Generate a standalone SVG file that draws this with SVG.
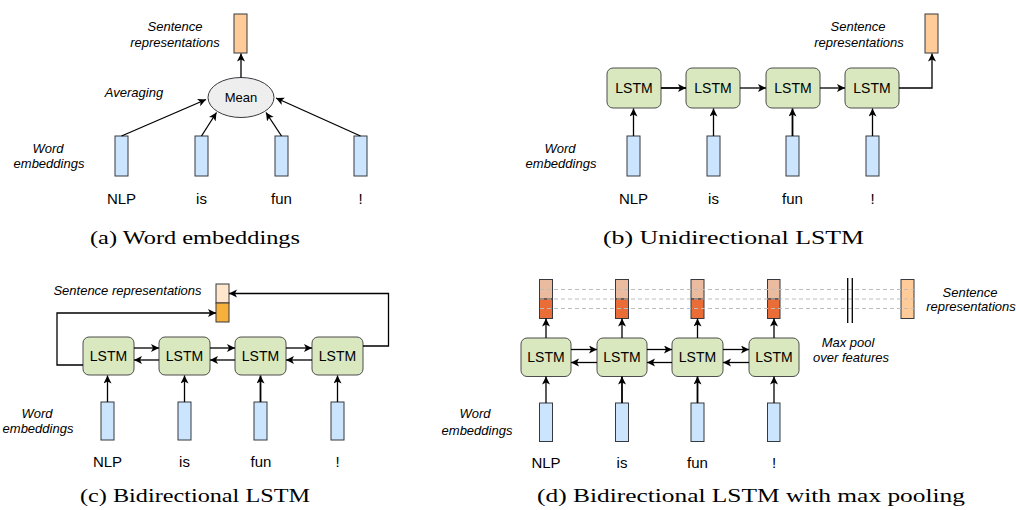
<svg xmlns="http://www.w3.org/2000/svg" width="1016" height="510" viewBox="0 0 1016 510">
<defs>
<marker id="ah" markerUnits="userSpaceOnUse" markerWidth="9" markerHeight="9" refX="8" refY="4" orient="auto">
<path d="M0,0 L8,4 L0,8 L2,4 z" fill="#000"/>
</marker>
<style>
.emb{fill:#cce5ff;stroke:#36393d;stroke-width:1}
.rep{fill:#ffcc99;stroke:#36393d;stroke-width:1}
.lstm{fill:#d9e8bf;stroke:#4d4d4d;stroke-width:1}
.lt{font-family:"Liberation Sans",Arial,sans-serif;font-size:14px;text-anchor:middle;fill:#000}
.w{font-family:"Liberation Sans",Arial,sans-serif;font-size:15px;text-anchor:middle;fill:#000}
.it{font-family:"Liberation Sans",Arial,sans-serif;font-size:13px;font-style:italic;text-anchor:middle;fill:#000}
.cap{font-family:"Liberation Serif","Times New Roman",serif;font-size:19px;fill:#000}
.c{fill:none;stroke:#000;stroke-width:1.3;marker-end:url(#ah)}
.dash{fill:none;stroke:#bdbdbd;stroke-width:1.2;stroke-dasharray:4,3}
</style>
</defs>
<rect width="1016" height="510" fill="#fff"/>

<!-- Panel (a) -->
<g id="a-rep"><rect class="rep" x="234" y="14" width="13" height="39"/></g>
<g id="a-rep-label"><text class="it" x="175" y="31">Sentence</text><text class="it" x="175" y="47">representations</text></g>
<g id="a-mean"><ellipse cx="241" cy="97.5" rx="33" ry="20" fill="#eeeeee" stroke="#36393d" stroke-width="1"/><text class="lt" x="241" y="102" style="font-size:13px">Mean</text></g>
<g id="a-avg"><text class="it" x="134" y="97">Averaging</text></g>
<g id="a-word"><text class="it" x="48" y="153">Word</text><text class="it" x="49" y="168">embeddings</text></g>
<g id="a-e1"><rect class="emb" x="115" y="136" width="13" height="40"/></g>
<g id="a-e2"><rect class="emb" x="195" y="136" width="13" height="40"/></g>
<g id="a-e3"><rect class="emb" x="275" y="136" width="13" height="40"/></g>
<g id="a-e4"><rect class="emb" x="354" y="136" width="13" height="40"/></g>
<g id="a-words"><text class="w" x="121.5" y="204">NLP</text><text class="w" x="201.5" y="204">is</text><text class="w" x="281.5" y="204">fun</text><text class="w" x="360.5" y="204">!</text></g>
<g id="a-cap"><text class="cap" x="90" y="244" textLength="210" lengthAdjust="spacingAndGlyphs">(a) Word embeddings</text></g>

<!-- Panel (b) -->
<g id="b-rep"><rect class="rep" x="925" y="14" width="13" height="39"/></g>
<g id="b-rep-label"><text class="it" x="858" y="31">Sentence</text><text class="it" x="859" y="47">representations</text></g>
<g id="b-word"><text class="it" x="560" y="153">Word</text><text class="it" x="561" y="168">embeddings</text></g>
<g id="b-l1"><rect class="lstm" x="607" y="68" width="54" height="40" rx="6"/><text class="lt" x="634" y="93">LSTM</text></g>
<g id="b-l2"><rect class="lstm" x="686" y="68" width="54" height="40" rx="6"/><text class="lt" x="713" y="93">LSTM</text></g>
<g id="b-l3"><rect class="lstm" x="766" y="68" width="54" height="40" rx="6"/><text class="lt" x="793" y="93">LSTM</text></g>
<g id="b-l4"><rect class="lstm" x="845" y="68" width="54" height="40" rx="6"/><text class="lt" x="872" y="93">LSTM</text></g>
<g id="b-e1"><rect class="emb" x="627" y="136" width="13" height="40"/></g>
<g id="b-e2"><rect class="emb" x="707" y="136" width="13" height="40"/></g>
<g id="b-e3"><rect class="emb" x="786" y="136" width="13" height="40"/></g>
<g id="b-e4"><rect class="emb" x="866" y="136" width="13" height="40"/></g>
<g id="b-words"><text class="w" x="633.5" y="204">NLP</text><text class="w" x="713.5" y="204">is</text><text class="w" x="792.5" y="204">fun</text><text class="w" x="872.5" y="204">!</text></g>
<g id="b-cap"><text class="cap" x="603" y="244" textLength="261" lengthAdjust="spacingAndGlyphs">(b) Unidirectional LSTM</text></g>

<!-- Panel (c) -->
<g id="c-rep"><rect x="216" y="284" width="13" height="19" fill="#ffe6cc" stroke="#36393d"/><rect x="216" y="303" width="13" height="19" fill="#f8b03c" stroke="#36393d"/></g>
<g id="c-rep-label"><text class="it" x="127.5" y="295">Sentence representations</text></g>
<g id="c-word"><text class="it" x="37" y="418">Word</text><text class="it" x="38" y="433">embeddings</text></g>
<g id="c-l1"><rect class="lstm" x="83" y="337" width="51" height="38" rx="6"/><text class="lt" x="108.5" y="361">LSTM</text></g>
<g id="c-l2"><rect class="lstm" x="159" y="337" width="51" height="38" rx="6"/><text class="lt" x="184.5" y="361">LSTM</text></g>
<g id="c-l3"><rect class="lstm" x="235" y="337" width="51" height="38" rx="6"/><text class="lt" x="260.5" y="361">LSTM</text></g>
<g id="c-l4"><rect class="lstm" x="312" y="337" width="51" height="38" rx="6"/><text class="lt" x="337.5" y="361">LSTM</text></g>
<g id="c-e1"><rect class="emb" x="101" y="402" width="13" height="38"/></g>
<g id="c-e2"><rect class="emb" x="178" y="402" width="13" height="38"/></g>
<g id="c-e3"><rect class="emb" x="254" y="402" width="13" height="38"/></g>
<g id="c-e4"><rect class="emb" x="331" y="402" width="13" height="38"/></g>
<g id="c-words"><text class="w" x="107.5" y="467">NLP</text><text class="w" x="184.5" y="467">is</text><text class="w" x="261" y="467">fun</text><text class="w" x="337.5" y="467">!</text></g>
<g id="c-cap"><text class="cap" x="80" y="502" textLength="230" lengthAdjust="spacingAndGlyphs">(c) Bidirectional LSTM</text></g>

<!-- Panel (d) -->
<g id="d-o1"><rect x="539.5" y="279.5" width="13" height="19.5" fill="#eabb9f" stroke="#36393d"/><rect x="539.5" y="299" width="13" height="19.5" fill="#ea6d37" stroke="#36393d"/></g>
<g id="d-o2"><rect x="615.5" y="279.5" width="13" height="19.5" fill="#eabb9f" stroke="#36393d"/><rect x="615.5" y="299" width="13" height="19.5" fill="#ea6d37" stroke="#36393d"/></g>
<g id="d-o3"><rect x="691" y="279.5" width="13" height="19.5" fill="#eabb9f" stroke="#36393d"/><rect x="691" y="299" width="13" height="19.5" fill="#ea6d37" stroke="#36393d"/></g>
<g id="d-o4"><rect x="767.5" y="279.5" width="12.5" height="19.5" fill="#eabb9f" stroke="#36393d"/><rect x="767.5" y="299" width="12.5" height="19.5" fill="#ea6d37" stroke="#36393d"/></g>
<g id="d-rep"><rect class="rep" x="901" y="279.5" width="13" height="39"/></g>
<g id="d-rep-label"><text class="it" x="970" y="297">Sentence</text><text class="it" x="971" y="311">representations</text></g>
<g id="d-maxpool"><text class="it" x="848" y="347">Max pool</text><text class="it" x="851" y="362">over features</text></g>
<g id="d-word"><text class="it" x="475" y="418">Word</text><text class="it" x="477" y="435">embeddings</text></g>
<g id="d-l1"><rect class="lstm" x="521" y="338" width="50" height="38.5" rx="6"/><text class="lt" x="546" y="362">LSTM</text></g>
<g id="d-l2"><rect class="lstm" x="597" y="338" width="50" height="38.5" rx="6"/><text class="lt" x="622" y="362">LSTM</text></g>
<g id="d-l3"><rect class="lstm" x="672" y="338" width="51" height="38.5" rx="6"/><text class="lt" x="697.5" y="362">LSTM</text></g>
<g id="d-l4"><rect class="lstm" x="749" y="338" width="50" height="38.5" rx="6"/><text class="lt" x="774" y="362">LSTM</text></g>
<g id="d-e1"><rect class="emb" x="539.5" y="403" width="13" height="38.5"/></g>
<g id="d-e2"><rect class="emb" x="615.5" y="403" width="13" height="38.5"/></g>
<g id="d-e3"><rect class="emb" x="691" y="403" width="13" height="38.5"/></g>
<g id="d-e4"><rect class="emb" x="767.5" y="403" width="12.5" height="38.5"/></g>
<g id="d-words"><text class="w" x="546" y="468">NLP</text><text class="w" x="622" y="468">is</text><text class="w" x="697.5" y="468">fun</text><text class="w" x="774" y="468">!</text></g>
<g id="d-cap"><text class="cap" x="537" y="502" textLength="428" lengthAdjust="spacingAndGlyphs">(d) Bidirectional LSTM with max pooling</text></g>

<g id="connectors">
<!-- a -->
<path class="c" d="M121.5,136 L206,99.5"/>
<path class="c" d="M201.5,136 L216.5,112.5"/>
<path class="c" d="M281.5,136 L266,112.5"/>
<path class="c" d="M360.5,136 L276,98"/>
<path class="c" d="M241,77.5 V53.5"/>
<!-- b -->
<path class="c" d="M661,88 H686" style="stroke-width:1.8"/>
<path class="c" d="M740,88 H766"/>
<path class="c" d="M820,88 H845"/>
<path class="c" d="M899,88 H932 V53.5"/>
<path class="c" d="M633.5,136 V108.5"/>
<path class="c" d="M713.5,136 V108.5"/>
<path class="c" d="M792.5,136 V108.5" style="stroke-width:1.8"/>
<path class="c" d="M872.5,136 V108.5"/>
<!-- c -->
<path class="c" d="M134,348 H159"/>
<path class="c" d="M210,348 H235"/>
<path class="c" d="M286,348 H312"/>
<path class="c" d="M159,360 H134"/>
<path class="c" d="M235,360 H210"/>
<path class="c" d="M312,360 H286"/>
<path class="c" d="M83,365 H57 V313 H216"/>
<path class="c" d="M363,346 H388.5 V293.5 H229"/>
<path class="c" d="M107.5,402 V375.5"/>
<path class="c" d="M184.5,402 V375.5"/>
<path class="c" d="M260.5,402 V375.5" style="stroke-width:1.8"/>
<path class="c" d="M337.5,402 V375.5"/>
<!-- d -->
<path class="c" d="M571,349.5 H597"/>
<path class="c" d="M647,349.5 H672"/>
<path class="c" d="M723,349.5 H749"/>
<path class="c" d="M597,362.5 H571"/>
<path class="c" d="M672,362.5 H647"/>
<path class="c" d="M749,362.5 H723"/>
<path class="c" d="M546,338 V318.5"/>
<path class="c" d="M622,338 V318.5"/>
<path class="c" d="M697.5,338 V318.5"/>
<path class="c" d="M774,338 V318.5"/>
<path class="c" d="M546,403 V376.5"/>
<path class="c" d="M622,403 V376.5" style="stroke-width:1.8"/>
<path class="c" d="M697.5,403 V376.5" style="stroke-width:1.8"/>
<path class="c" d="M774,403 V376.5"/>
<path class="dash" d="M540,289.5 H914"/>
<path class="dash" d="M540,299 H914"/>
<path class="dash" d="M540,308.5 H914"/>
<path d="M847.7,278 V323 M852.3,278 V323" stroke="#000" stroke-width="1.3" fill="none"/>
</g>
</svg>
